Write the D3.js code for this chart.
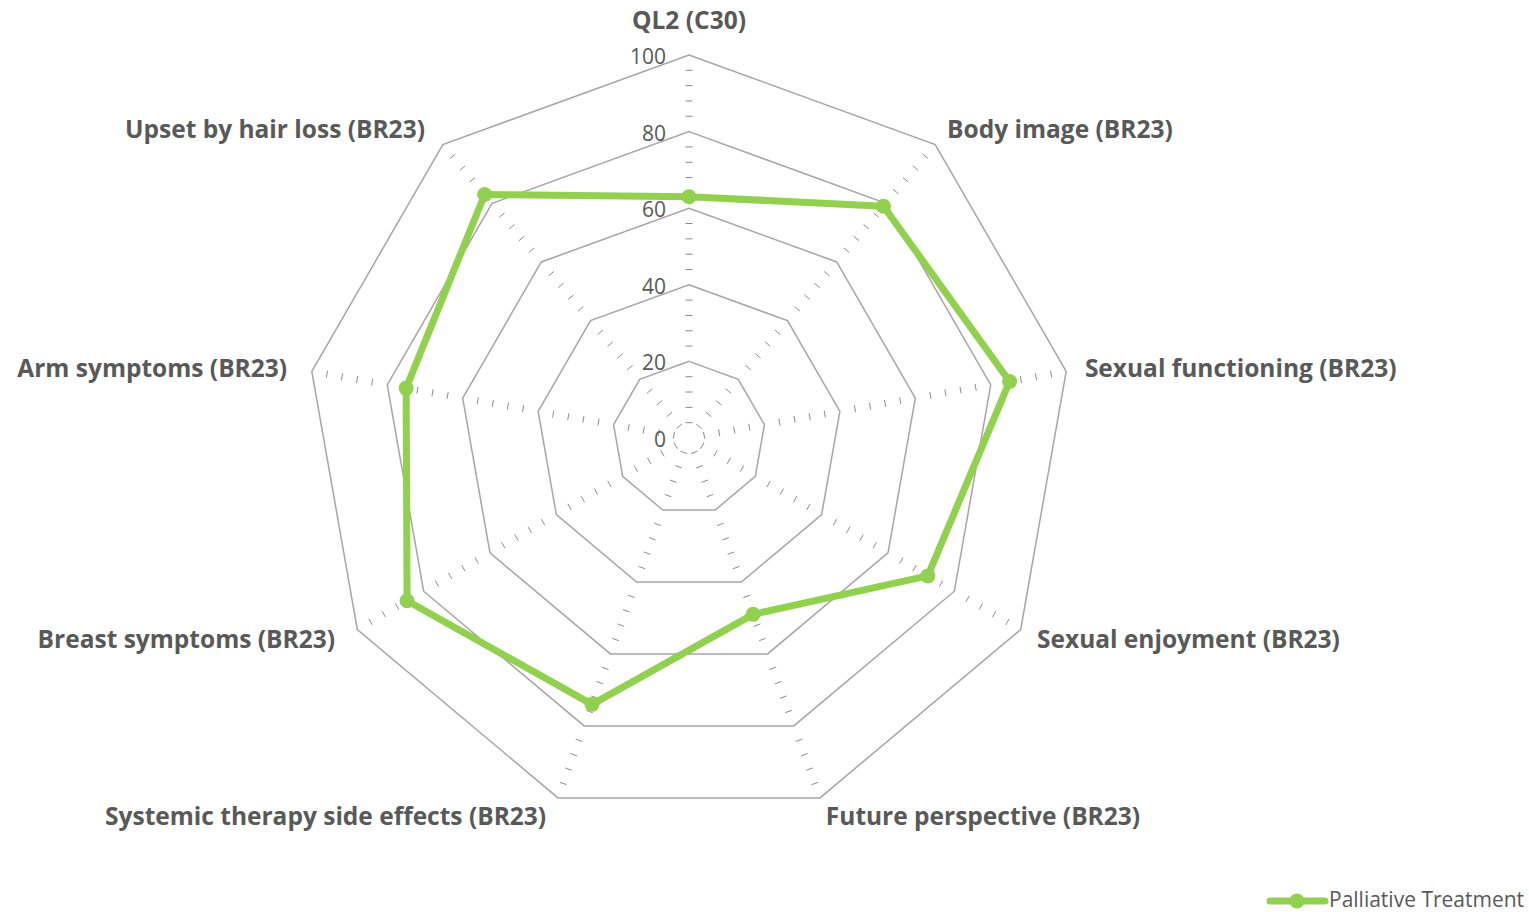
<!DOCTYPE html>
<html>
<head>
<meta charset="utf-8">
<script src="https://cdn.jsdelivr.net/npm/d3@7"></script>
<style>
  html, body { margin: 0; padding: 0; background: #fff; }
  svg { display: block; }
</style>
</head>
<body>
<svg id="chart" width="1529" height="912"></svg>
<script>
const categories = [
  "QL2 (C30)",
  "Body image (BR23)",
  "Sexual functioning (BR23)",
  "Sexual enjoyment (BR23)",
  "Future perspective (BR23)",
  "Systemic therapy side effects (BR23)",
  "Breast symptoms (BR23)",
  "Arm symptoms (BR23)",
  "Upset by hair loss (BR23)"
];
const seriesName = "Palliative Treatment";
const seriesValues = [63, 79, 85, 72, 49, 74, 85, 75, 83];
const majorTicks = [0, 20, 40, 60, 80, 100];
const minorTicks = d3.range(4, 100, 4).filter(v => v % 20 !== 0);

const svg = d3.select("#chart");
const cx = 689, cy = 438, R = 383;
const green = "#92D050";
const textColor = "#595959";
const gridColor = "#a6a6a6";

const r = d3.scaleLinear().domain([0, 100]).range([0, R]);
const angle = d3.scalePoint().domain(categories).range([0, 2 * Math.PI * (categories.length - 1) / categories.length]);

function pt(cat, v) {
  const a = angle(cat);
  return [cx + r(v) * Math.sin(a), cy - r(v) * Math.cos(a)];
}

const g = svg.append("g");

// minor tick marks on spokes
categories.forEach(cat => {
  const a = angle(cat);
  const px = Math.cos(a), py = Math.sin(a);
  minorTicks.forEach(v => {
    const [x, y] = pt(cat, v);
    g.append("line")
      .attr("x1", x - px * 3.5).attr("y1", y - py * 3.5)
      .attr("x2", x + px * 3.5).attr("y2", y + py * 3.5)
      .attr("stroke", "#8c8c8c").attr("stroke-width", 1);
  });
});

// major grid polygons
const lineGen = d3.line().curve(d3.curveLinearClosed);
majorTicks.filter(v => v > 0).forEach(v => {
  g.append("path")
    .attr("d", lineGen(categories.map(c => pt(c, v))))
    .attr("fill", "none")
    .attr("stroke", gridColor)
    .attr("stroke-width", 1.5);
});

// tick labels
majorTicks.forEach(v => {
  g.append("text")
    .attr("x", cx - 23)
    .attr("y", cy - r(v) + 1)
    .attr("text-anchor", "end")
    .attr("dominant-baseline", "central")
    .attr("font-family", "Open Sans, sans-serif")
    .attr("font-size", 21)
    .attr("fill", textColor)
    .text(v);
});

// category labels
categories.forEach(cat => {
  const a = angle(cat);
  const s = Math.sin(a);
  const x = cx + (R + 20) * s;
  let y = cy - (R + 20) * Math.cos(a) - 1;
  let anchor = "middle";
  if (s > 0.01) anchor = "start";
  else if (s < -0.01) anchor = "end";
  if (anchor === "middle") y -= 15;
  g.append("text")
    .attr("x", anchor === "start" ? x - 1 : anchor === "end" ? x - 5 : x)
    .attr("y", y)
    .attr("text-anchor", anchor)
    .attr("dominant-baseline", "central")
    .attr("font-family", "Open Sans, sans-serif")
    .attr("font-weight", "bold")
    .attr("font-size", 24.5)
    .attr("fill", textColor)
    .text(cat);
});

// series
const pts = categories.map((c, i) => pt(c, seriesValues[i]));
g.append("path")
  .attr("d", lineGen(pts))
  .attr("fill", "none")
  .attr("stroke", green)
  .attr("stroke-width", 7)
  .attr("stroke-linejoin", "round");
g.selectAll("circle.pt").data(pts).enter().append("circle")
  .attr("class", "pt")
  .attr("cx", d => d[0]).attr("cy", d => d[1])
  .attr("r", 7.5)
  .attr("fill", green);

// legend
const lg = svg.append("g");
lg.append("line")
  .attr("x1", 1270).attr("y1", 901).attr("x2", 1325).attr("y2", 901)
  .attr("stroke", green).attr("stroke-width", 7).attr("stroke-linecap", "round");
lg.append("circle").attr("cx", 1297).attr("cy", 901).attr("r", 7.5).attr("fill", green);
lg.append("text")
  .attr("x", 1329).attr("y", 907)
  .attr("font-family", "Open Sans, sans-serif")
  .attr("font-size", 21)
  .attr("fill", textColor)
  .text(seriesName);
</script>
</body>
</html>
